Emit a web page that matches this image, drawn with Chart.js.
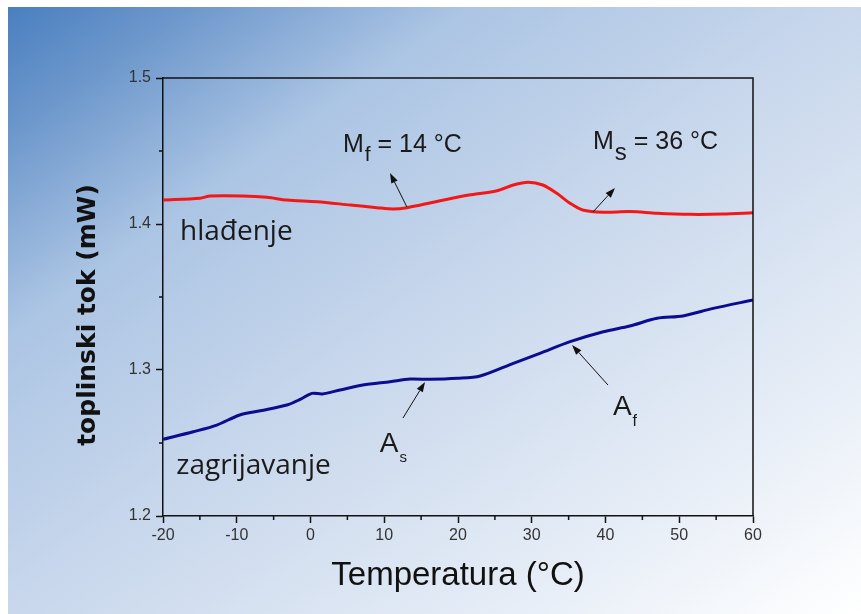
<!DOCTYPE html>
<html>
<head>
<meta charset="utf-8">
<script src="https://cdn.jsdelivr.net/npm/chart.js@4"></script>
<style>
  html, body { margin:0; padding:0; background:#ffffff; }
  #wrap { position:relative; width:861px; height:614px; overflow:hidden; background:#ffffff; }
  #bg { position:absolute; left:8px; top:7px; width:853px; height:607px;
        background: linear-gradient(to bottom right, #4a7fc0 0%, #6b96cb 10%, #acc5e4 27%, #c8d7ec 50%, #e2eaf5 75%, #ffffff 100%); }
  #c { position:absolute; left:0; top:0; }
</style>
</head>
<body>
<div id="wrap">
  <div id="bg"></div>
  <canvas id="c" width="861" height="614"></canvas>
</div>
<script>
// ---- data ----
const hladT = [-20,-15,-13.6,-9.2,-5.9,-3.2,0.9,5.4,9,11.2,13.1,16.2,20.7,25.3,27.5,29.5,31.5,33.4,35.2,36.9,39.7,43.3,47,51.5,55.9,60];
const hladV = [1.4164,1.4176,1.4192,1.4192,1.4183,1.4164,1.4153,1.413,1.4112,1.4103,1.4112,1.4144,1.4192,1.4228,1.4267,1.4286,1.4267,1.421,1.4142,1.4096,1.408,1.4085,1.4073,1.4066,1.4068,1.4077];
const zagT = [-20,-15.9,-12.7,-9.6,-6.8,-3.2,-1.4,0.2,1.6,4,7.1,10.8,13.5,16.2,19.9,23,27.5,31.1,35.2,39.7,43.3,47,50.5,54.6,60];
const zagV = [1.2525,1.2577,1.2623,1.2692,1.2721,1.276,1.2799,1.284,1.2836,1.2863,1.2897,1.292,1.2938,1.2936,1.2943,1.2959,1.3046,1.3114,1.3194,1.3262,1.3301,1.3354,1.337,1.3422,1.3479];
const xMinorTicks = [-15,-5,5,15,25,35,45,55];
const yMinorTicks = [1.25,1.35,1.45];
const xTitle = 'Temperatura (°C)';
const yTitle = 'toplinski tok (mW)';
// annotation labels (data coordinates)
const curveLabels = [
  {text:'hlađenje', x:-17.7, y:1.389},
  {text:'zagrijavanje', x:-18.2, y:1.2288}
];
const transLabels = [
  {main:'M', sub:'f', rest:' = 14 °C', x:4.4, y:1.4495, size:25, subSize:21, subDrop:9},
  {main:'M', sub:'s', rest:' = 36 °C', x:38.3, y:1.4512, size:25, subSize:24, subDrop:11},
  {main:'A', sub:'s', rest:'', x:9.4, y:1.2438, size:28, subSize:15, subDrop:10},
  {main:'A', sub:'f', rest:'', x:41.0, y:1.2692, size:28, subSize:16, subDrop:11}
];
const arrows = [
  {x1:13.08, y1:1.4116, x2:10.78, y2:1.4349},
  {x1:38.3,  y1:1.4082, x2:41.29, y2:1.4247},
  {x1:12.54, y1:1.2671, x2:15.53, y2:1.2918},
  {x1:40.34, y1:1.2897, x2:35.46, y2:1.3171}
];

const toPts = (xs, ys) => xs.map((x, i) => ({x, y: ys[i]}));

const decor = {
  id: 'decor',
  afterDraw(chart) {
    const ctx = chart.ctx, xs = chart.scales.x, ys = chart.scales.y, a = chart.chartArea;
    ctx.save();
    // frame top/right
    ctx.strokeStyle = '#111'; ctx.lineWidth = 1.5;
    ctx.beginPath();
    ctx.moveTo(a.left, a.top); ctx.lineTo(a.right, a.top); ctx.lineTo(a.right, a.bottom);
    ctx.stroke();
    // minor ticks
    ctx.beginPath();
    xMinorTicks.forEach(v => { const p = xs.getPixelForValue(v); ctx.moveTo(p, a.bottom); ctx.lineTo(p, a.bottom + 4); });
    yMinorTicks.forEach(v => { const p = ys.getPixelForValue(v); ctx.moveTo(a.left, p); ctx.lineTo(a.left - 4, p); });
    ctx.stroke();
    // y axis title (rotated)
    ctx.save();
    ctx.fillStyle = '#111';
    ctx.font = 'bold 25px "DejaVu Sans"';
    ctx.textAlign = 'center'; ctx.textBaseline = 'middle';
    ctx.translate(88, (a.top + a.bottom) / 2 + 18);
    ctx.rotate(-Math.PI / 2);
    ctx.fillText(yTitle, 0, 0);
    ctx.restore();
    // curve labels
    ctx.fillStyle = '#1a1a1a';
    ctx.textBaseline = 'alphabetic'; ctx.textAlign = 'left';
    ctx.font = '28px "Open Sans"';
    curveLabels.forEach(l => ctx.fillText(l.text, xs.getPixelForValue(l.x), ys.getPixelForValue(l.y)));
    // transformation labels
    transLabels.forEach(l => {
      let px = xs.getPixelForValue(l.x); const py = ys.getPixelForValue(l.y);
      ctx.font = l.size + 'px "Liberation Sans", Arial';
      ctx.fillText(l.main, px, py); px += ctx.measureText(l.main).width + 1;
      ctx.font = l.subSize + 'px "Liberation Sans", Arial';
      ctx.fillText(l.sub, px, py + l.subDrop); px += ctx.measureText(l.sub).width;
      if (l.rest) { ctx.font = l.size + 'px "Liberation Sans", Arial'; ctx.fillText(l.rest, px, py); }
    });
    // arrows
    ctx.strokeStyle = '#111'; ctx.fillStyle = '#111'; ctx.lineWidth = 1;
    arrows.forEach(r => {
      const x1 = xs.getPixelForValue(r.x1), y1 = ys.getPixelForValue(r.y1);
      const x2 = xs.getPixelForValue(r.x2), y2 = ys.getPixelForValue(r.y2);
      const ang = Math.atan2(y2 - y1, x2 - x1), L = 10, W = 3.5;
      const bx = x2 - L * Math.cos(ang), by = y2 - L * Math.sin(ang);
      ctx.beginPath(); ctx.moveTo(x1, y1); ctx.lineTo(bx, by); ctx.stroke();
      ctx.beginPath();
      ctx.moveTo(x2, y2);
      ctx.lineTo(bx + W * Math.sin(ang), by - W * Math.cos(ang));
      ctx.lineTo(bx - W * Math.sin(ang), by + W * Math.cos(ang));
      ctx.closePath(); ctx.fill();
    });
    ctx.restore();
  }
};

new Chart(document.getElementById('c'), {
  type: 'line',
  data: {
    datasets: [
      {label:'hlađenje', data: toPts(hladT, hladV), borderColor:'#f21818', borderWidth:3, pointRadius:0, tension:0.3, fill:false},
      {label:'zagrijavanje', data: toPts(zagT, zagV), borderColor:'#0c0c8e', borderWidth:3, pointRadius:0, tension:0.3, fill:false}
    ]
  },
  options: {
    responsive:false, animation:false, devicePixelRatio:1,
    layout: {padding: {top:78, right:108, left:0, bottom:0}},
    plugins: {legend:{display:false}, tooltip:{enabled:false}},
    scales: {
      x: {
        type:'linear', min:-20, max:60,
        ticks: {stepSize:10, color:'#333', font:{family:'"Liberation Sans", Arial', size:16}, padding:3, maxRotation:0},
        grid: {drawOnChartArea:false, color:'#111', tickLength:7, tickWidth:1.5},
        border: {color:'#111', width:1.5},
        title: {display:true, text:xTitle, color:'#111', font:{family:'"Liberation Sans", Arial', size:33}, padding:{top:0, bottom:18}},
        afterFit(s) { s.height = 98; }
      },
      y: {
        type:'linear', min:1.2, max:1.5,
        ticks: {stepSize:0.1, color:'#333', font:{family:'"Liberation Sans", Arial', size:16}, padding:5, callback: v => v.toFixed(1)},
        grid: {drawOnChartArea:false, color:'#111', tickLength:7, tickWidth:1.5},
        border: {color:'#111', width:1.5},
        title: {display:false, text:yTitle},
        afterFit(s) { s.width = 163; }
      }
    }
  },
  plugins: [decor]
});
</script>
</body>
</html>
